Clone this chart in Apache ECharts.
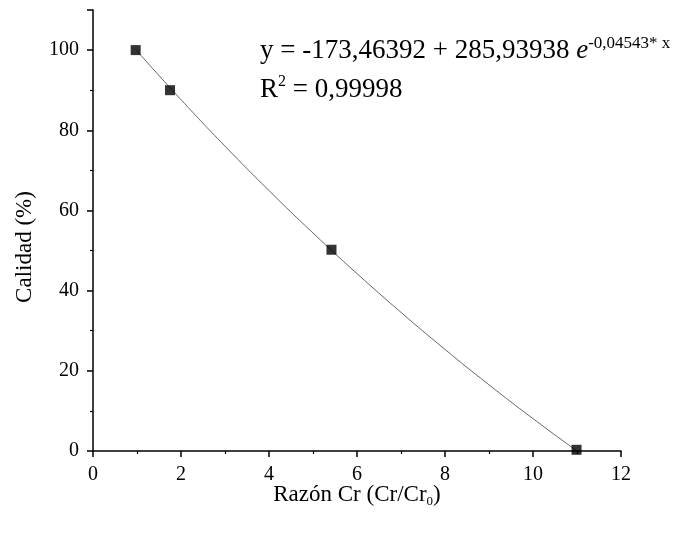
<!DOCTYPE html>
<html>
<head>
<meta charset="utf-8">
<script src="https://cdn.jsdelivr.net/npm/echarts@6/dist/echarts.min.js"></script>
<style>html,body{margin:0;padding:0;background:#fff;}#c{width:691px;height:533px;}</style>
</head>
<body>
<div id="c"></div>
<script>
// Measured points
var ratioX = [0.97, 1.75, 5.42, 10.99];
var qualityY = [100, 90, 50.2, 0.3];
// Fitted curve
var curveX = [0.97, 2, 3, 4, 5, 6, 7, 8, 9, 10, 11];
var curveY = [100.15, 87.64, 76.04, 64.96, 54.37, 44.25, 34.58, 25.34, 16.51, 8.07, 0.01];
var xTicks = [0, 2, 4, 6, 8, 10, 12];
var yTicks = [0, 20, 40, 60, 80, 100];

var FONT = '"Liberation Serif", "Times New Roman", serif';
var chart = echarts.init(document.getElementById('c'));
var pts = ratioX.map(function (x, i) { return [x, qualityY[i]]; });
var curve = curveX.map(function (x, i) { return [x, curveY[i]]; });

chart.setOption({
  backgroundColor: '#fff',
  animation: false,
  grid: { left: 93, right: 70, top: 10, bottom: 82 },
  xAxis: {
    type: 'value', min: 0, max: 12, interval: 2,
    axisLine: { lineStyle: { color: '#000', width: 1.5 } },
    axisTick: { show: true, length: 6, lineStyle: { color: '#000', width: 1.5 } },
    minorTick: { show: true, splitNumber: 2, length: 3, lineStyle: { color: '#000', width: 1.2 } },
    splitLine: { show: false },
    axisLabel: { color: '#000', fontFamily: FONT, fontSize: 20, margin: 14,
      formatter: function (v) { return xTicks.indexOf(v) >= 0 ? String(v) : ''; } }
  },
  yAxis: {
    type: 'value', min: 0, max: 110, interval: 20,
    axisLine: { show: true, lineStyle: { color: '#000', width: 1.5 } },
    axisTick: { show: true, length: 6, lineStyle: { color: '#000', width: 1.5 } },
    minorTick: { show: true, splitNumber: 2, length: 3, lineStyle: { color: '#000', width: 1.2 } },
    splitLine: { show: false },
    axisLabel: { color: '#000', fontFamily: FONT, fontSize: 20, margin: 14, showMaxLabel: false,
      formatter: function (v) { return yTicks.indexOf(v) >= 0 ? String(v) : ''; } }
  },
  series: [
    { type: 'line', data: curve, smooth: true, showSymbol: false, symbol: 'none',
      lineStyle: { color: '#666', width: 1 }, z: 2 },
    { type: 'scatter', data: pts, symbol: 'rect', symbolSize: 10,
      itemStyle: { color: '#000' }, z: 3 }
  ],
  graphic: [
    { type: 'text', left: 260, top: 35, style: {
      rich: {
        m: { fontFamily: FONT, fontSize: 27, lineHeight: 32, fill: '#000' },
        e: { fontFamily: FONT, fontSize: 27, lineHeight: 32, fontStyle: 'italic', fill: '#000' },
        s: { fontFamily: FONT, fontSize: 17, lineHeight: 16, fill: '#000', verticalAlign: 'top' }
      },
      text: '{m|y = -173,46392 + 285,93938 }{e|e}{s|-0,04543* x}' } },
    { type: 'text', left: 260, top: 74, style: {
      rich: {
        m: { fontFamily: FONT, fontSize: 27, lineHeight: 32, fill: '#000' },
        s: { fontFamily: FONT, fontSize: 16, lineHeight: 16, fill: '#000', verticalAlign: 'top' }
      },
      text: '{m|R}{s|2}{m| = 0,99998}' } },
    { type: 'text', x: 357, y: 495, style: {
      align: 'center', verticalAlign: 'middle',
      rich: {
        m: { fontFamily: FONT, fontSize: 23, lineHeight: 26, fill: '#000' },
        s: { fontFamily: FONT, fontSize: 13, lineHeight: 13, fill: '#000', verticalAlign: 'bottom' }
      },
      text: '{m|Razón Cr (Cr/Cr}{s|0}{m|)}' } },
    { type: 'text', rotation: Math.PI / 2, x: 25, y: 247, style: {
      text: 'Calidad (%)', fontFamily: FONT, fontSize: 23, fill: '#000',
      align: 'center', verticalAlign: 'middle' } }
  ]
});
</script>
</body>
</html>
